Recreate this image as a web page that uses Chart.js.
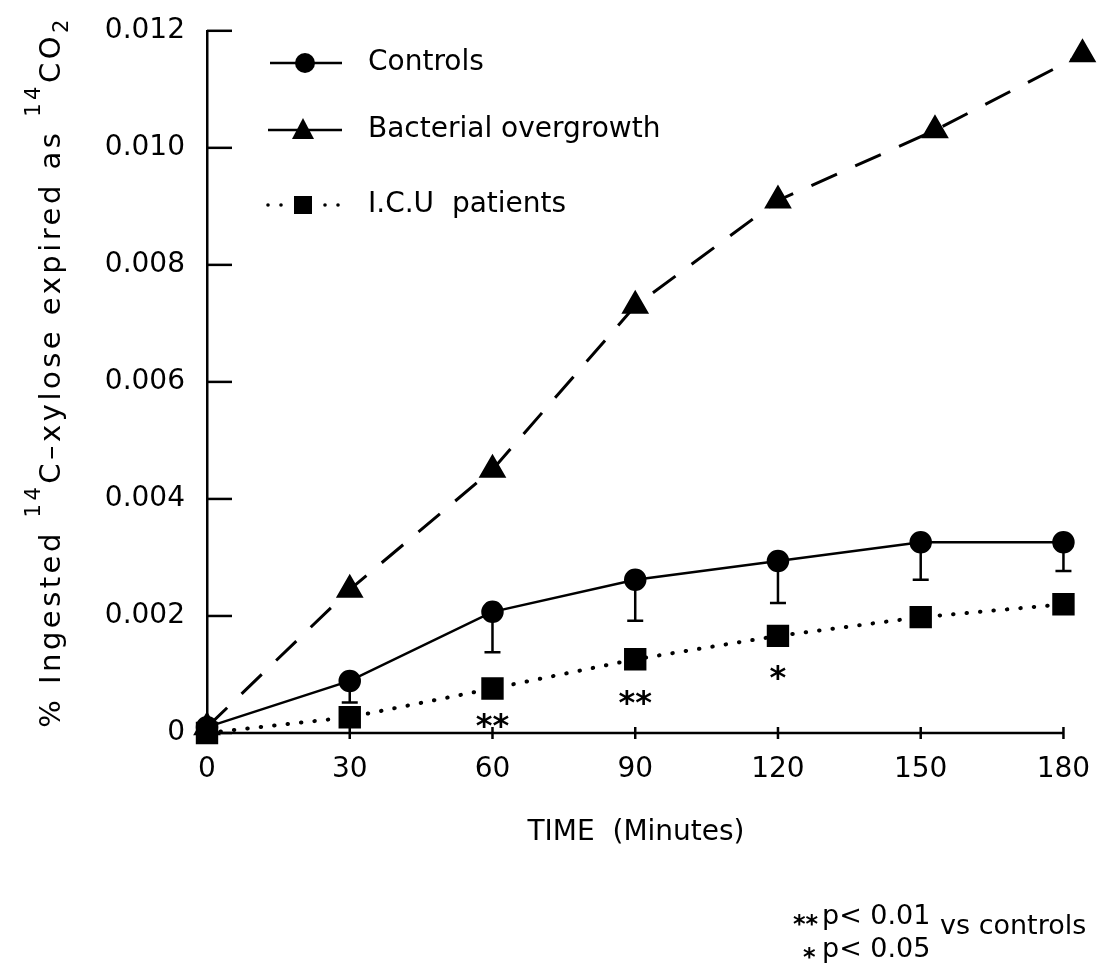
<!DOCTYPE html>
<html>
<head>
<meta charset="utf-8">
<title>14C-xylose breath test</title>
<script src="https://cdn.jsdelivr.net/npm/chart.js@4.4.1/dist/chart.umd.min.js"></script>
<style>
  html, body { margin: 0; padding: 0; background: #fff; }
  #wrap { width: 1119px; height: 973px; position: relative; }
</style>
</head>
<body>
<div id="wrap"><canvas id="chart" width="1119" height="973"></canvas></div>
<script>
// Data
const timePoints = [0, 30, 60, 90, 120, 150, 180];
const controls = [0.0001, 0.00089, 0.00207, 0.00262, 0.00294, 0.00326, 0.00326];
const controlsLower = [null, 0.00052, 0.00138, 0.00192, 0.00222, 0.00262, 0.00277];
const bacterialTime = [0, 30, 60, 90, 120, 153, 184];
const bacterial = [0.0001, 0.00245, 0.0045, 0.0073, 0.0091, 0.0103, 0.0116];
const icu = [0, 0.00027, 0.00076, 0.00126, 0.00166, 0.00198, 0.0022];

// significance marks under the I.C.U series
const sigTime = [60, 90, 120];
const sigLevel = [0.00027, 0.00067, 0.0011];
const sigText = ['**', '**', '*'];

const yTicks = [0, 0.002, 0.004, 0.006, 0.008, 0.010, 0.012];
const xTicks = [0, 30, 60, 90, 120, 150, 180];

const FONT = '"DejaVu Sans", sans-serif';

function pts(xs, ys) {
  return xs.map((x, i) => ({ x: x, y: ys[i] }));
}

// draw a bold asterisk string centred on (x, y)
function stars(ctx, text, x, y, size, align) {
  ctx.font = 'bold ' + size + 'px ' + FONT;
  ctx.textAlign = align;
  ctx.textBaseline = 'alphabetic';
  ctx.fillText(text, x, y + size * 0.6);
}

// Error bars (lower only), axis ticks, legend and texts
const extras = {
  id: 'extras',
  beforeDatasetsDraw(chart) {
    const ctx = chart.ctx;
    const xs = chart.scales.x, ys = chart.scales.y;
    ctx.save();
    ctx.strokeStyle = '#000';
    ctx.lineWidth = 2.5;
    timePoints.forEach((t, i) => {
      if (controlsLower[i] == null) return;
      const px = xs.getPixelForValue(t);
      const top = ys.getPixelForValue(controls[i]);
      const bot = ys.getPixelForValue(controlsLower[i]);
      ctx.beginPath();
      ctx.moveTo(px, top);
      ctx.lineTo(px, bot);
      ctx.moveTo(px - 8, bot);
      ctx.lineTo(px + 8, bot);
      ctx.stroke();
    });
    ctx.restore();
  },
  afterDraw(chart) {
    const ctx = chart.ctx;
    const xs = chart.scales.x, ys = chart.scales.y;
    const area = chart.chartArea;
    ctx.save();
    ctx.strokeStyle = '#000';
    ctx.fillStyle = '#000';
    ctx.lineWidth = 2.5;

    // x axis line, only up to the last tick
    ctx.beginPath();
    ctx.moveTo(area.left, area.bottom);
    ctx.lineTo(xs.getPixelForValue(xTicks[xTicks.length - 1]), area.bottom);
    ctx.stroke();

    // y ticks pointing into the plot
    yTicks.forEach(v => {
      const py = ys.getPixelForValue(v);
      ctx.beginPath();
      ctx.moveTo(area.left, py);
      ctx.lineTo(area.left + 25, py);
      ctx.stroke();
    });
    // x ticks crossing the axis
    xTicks.forEach(v => {
      if (v === 0) return;
      const px = xs.getPixelForValue(v);
      ctx.beginPath();
      ctx.moveTo(px, area.bottom - 6);
      ctx.lineTo(px, area.bottom + 6);
      ctx.stroke();
    });

    // significance marks
    sigTime.forEach((t, i) => {
      stars(ctx, sigText[i], xs.getPixelForValue(t), ys.getPixelForValue(sigLevel[i]), 32, 'center');
    });

    // legend
    ctx.font = '28px ' + FONT;
    ctx.textAlign = 'left';
    ctx.textBaseline = 'middle';
    // Controls
    ctx.lineWidth = 2.5;
    ctx.beginPath();
    ctx.moveTo(270, 63); ctx.lineTo(342, 63);
    ctx.stroke();
    ctx.beginPath();
    ctx.arc(305, 63, 10, 0, Math.PI * 2);
    ctx.fill();
    ctx.fillText('Controls', 368, 63);
    // Bacterial overgrowth
    ctx.beginPath();
    ctx.moveTo(268, 130); ctx.lineTo(342, 130);
    ctx.stroke();
    ctx.beginPath();
    ctx.moveTo(303, 118); ctx.lineTo(314, 139); ctx.lineTo(292, 139);
    ctx.closePath();
    ctx.fill();
    ctx.fillText('Bacterial overgrowth', 368, 130);
    // I.C.U patients
    [268, 281, 325, 338].forEach(x => {
      ctx.beginPath();
      ctx.arc(x, 205, 1.8, 0, Math.PI * 2);
      ctx.fill();
    });
    ctx.fillRect(294, 196, 18, 18);
    ctx.fillText('I.C.U  patients', 368, 205);

    // x axis title
    ctx.textAlign = 'center';
    ctx.fillText('TIME  (Minutes)', 636, 833);

    // footnote
    stars(ctx, '**', 793, 918, 24, 'left');
    stars(ctx, '*', 803, 951, 24, 'left');
    ctx.font = '27px ' + FONT;
    ctx.textAlign = 'left';
    ctx.textBaseline = 'middle';
    ctx.fillText('p< 0.01', 822, 917);
    ctx.fillText('p< 0.05', 822, 950);
    ctx.fillText('vs controls', 940, 927);

    // y axis title with super/subscripts, rotated
    const parts = [
      ['% Ingested ', 0], ['14', 1], ['C\u2013xylose expired as ', 0], ['14', 1], ['CO', 0], ['2', 2]
    ];
    const big = '29px ' + FONT, small = '21px ' + FONT;
    ctx.letterSpacing = '3.5px';
    let total = 0;
    parts.forEach(p => { ctx.font = p[1] ? small : big; total += ctx.measureText(p[0]).width; });
    ctx.translate(60, 372);
    ctx.rotate(-Math.PI / 2);
    ctx.textAlign = 'left';
    ctx.textBaseline = 'alphabetic';
    let cx = -total / 2;
    parts.forEach(p => {
      ctx.font = p[1] ? small : big;
      const dy = p[1] === 1 ? -20 : (p[1] === 2 ? 8 : 0);
      ctx.fillText(p[0], cx, dy);
      cx += ctx.measureText(p[0]).width;
    });
    ctx.restore();
  }
};

new Chart(document.getElementById('chart'), {
  type: 'line',
  data: {
    datasets: [{
      label: 'Controls',
      data: pts(timePoints, controls),
      borderColor: '#000',
      backgroundColor: '#000',
      borderWidth: 2.5,
      pointStyle: 'circle',
      pointRadius: 10,
      clip: false
    }, {
      label: 'Bacterial overgrowth',
      data: pts(bacterialTime, bacterial),
      borderColor: '#000',
      backgroundColor: '#000',
      borderWidth: 3,
      borderDash: [28, 20],
      pointStyle: 'triangle',
      pointRadius: 13,
      clip: false
    }, {
      label: 'I.C.U patients',
      data: pts(timePoints, icu),
      borderColor: '#000',
      backgroundColor: '#000',
      borderWidth: 4,
      borderDash: [0.5, 13],
      borderCapStyle: 'round',
      pointStyle: 'rect',
      pointRadius: 13,
      clip: false
    }]
  },
  options: {
    responsive: false,
    animation: false,
    layout: { padding: { top: 19, right: 27, left: 0, bottom: 0 } },
    plugins: {
      legend: { display: false },
      tooltip: { enabled: false }
    },
    scales: {
      x: {
        type: 'linear',
        min: 0,
        max: 186,
        afterBuildTicks: s => { s.ticks = xTicks.map(v => ({ value: v })); },
        afterFit: s => { s.height = 240; },
        grid: { display: false },
        border: { display: false },
        ticks: { color: '#000', font: { family: FONT, size: 28 }, padding: 12, maxRotation: 0 }
      },
      y: {
        min: 0,
        max: 0.012,
        afterBuildTicks: s => { s.ticks = yTicks.map(v => ({ value: v })); },
        afterFit: s => { s.width = 207; },
        grid: { display: false },
        border: { display: true, color: '#000', width: 2.5 },
        ticks: {
          color: '#000',
          font: { family: FONT, size: 28 },
          padding: 14,
          callback: v => v === 0 ? '0' : v.toFixed(3)
        }
      }
    }
  },
  plugins: [extras]
});
</script>
</body>
</html>
